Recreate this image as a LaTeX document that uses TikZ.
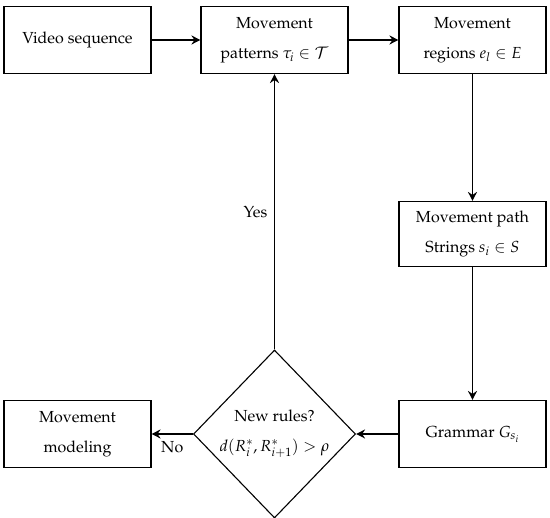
\documentclass[tikz,border=0pt]{standalone}
\usepackage[T1]{fontenc}
\usepackage{mathpazo}
\usetikzlibrary{shapes.geometric,arrows.meta}
\tikzset{
  box/.style={draw, line width=1.1pt, minimum width=147pt, minimum height=67pt, align=center, inner sep=2pt},
  dia/.style={draw, diamond, line width=1.1pt, minimum width=162pt, minimum height=168pt, inner sep=0pt},
  arr/.style={line width=1.6pt, -{Stealth[length=9pt,width=9pt,inset=3pt]}},
  lbl/.style={font=\fontsize{16}{19}\selectfont}
}
\begin{document}
\begin{tikzpicture}[x=1pt,y=-1pt,every node/.style={font=\fontsize{16}{30}\selectfont}]
\useasboundingbox (0,0) rectangle (550,518);
\node[box] (v) at (77.5,40) {Video sequence};
\node[box] (p) at (274.5,40) {Movement\\patterns $\tau_i \in \mathcal{T}$};
\node[box] (r) at (472.5,40) {Movement\\regions $e_l \in E$};
\node[box, minimum height=65pt] (s) at (472.5,234) {Movement path\\Strings $s_i \in S$};
\node[box] (g) at (472.5,434) {Grammar $G_{s_i}$};
\node[box] (m) at (77.5,434) {Movement\\modeling};
\node[dia] (d) at (274.5,434) {};
\node[align=center] (dt) at (d.center) {New rules?\\$d(R_i^*, R_{i+1}^*) > \rho$};
\draw[arr] (v) -- (p);
\draw[arr] (p) -- (r);
\draw[arr] (r) -- (s);
\draw[arr] (s) -- (g);
\draw[arr] (g) -- (d);
\draw[arr] (d) -- node[lbl, below=3pt] (no) {No} (m);
\draw[arr] (d) -- node[lbl, left=3pt] (yes) {Yes} (p);
\end{tikzpicture}
\end{document}
